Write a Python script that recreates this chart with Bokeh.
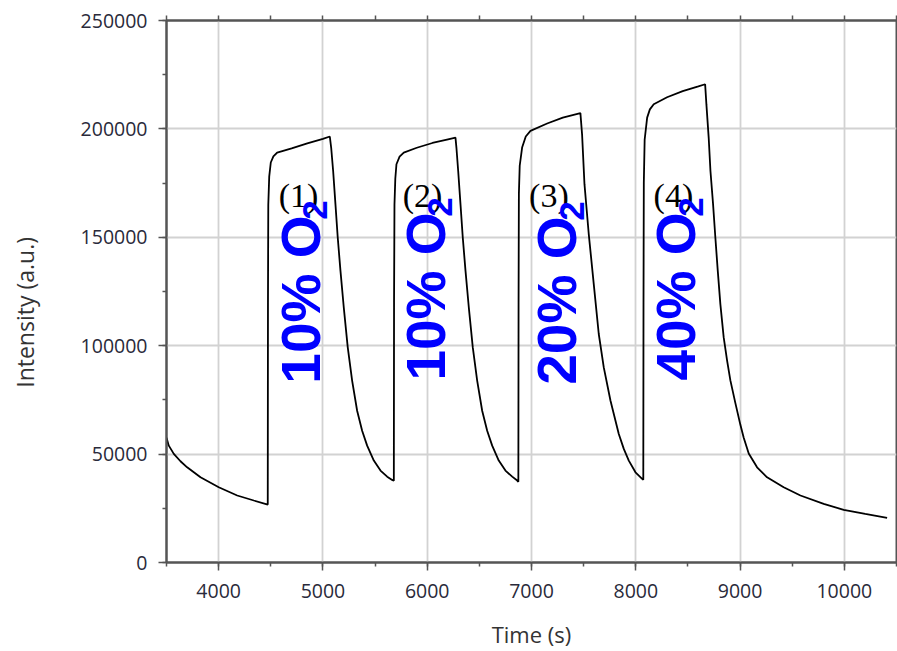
import math
from bokeh.plotting import figure
from bokeh.models import Range1d, LinearAxis, SingleIntervalTicker, FixedTicker, NumeralTickFormatter
from bokeh.core.properties import value
from bokeh.embed import file_html
from bokeh.resources import INLINE

# ---- data ----
time_s = [
    3500, 3522, 3570, 3634, 3698, 3826, 4001, 4178, 4337, 4471,
    4473, 4476, 4485, 4500, 4525, 4561, 4700, 4850, 5000, 5066,
    5079, 5098, 5120, 5142, 5168, 5200, 5238, 5280, 5328, 5376, 5424, 5488, 5552, 5616, 5664, 5680,
    5682, 5686, 5694, 5705, 5735, 5775, 5900, 6050, 6200, 6271,
    6280, 6297, 6319, 6341, 6367, 6399, 6437, 6479, 6527, 6575, 6623, 6686, 6750, 6815, 6863, 6874,
    6876, 6879, 6887, 6910, 6945, 6990, 7150, 7300, 7469,
    7485, 7508, 7549, 7597, 7645, 7693, 7757, 7837, 7885, 7933, 7997, 8061, 8072,
    8074, 8077, 8085, 8109, 8135, 8172, 8300, 8450, 8600, 8665,
    8677, 8699, 8716, 8741, 8763, 8786, 8811, 8843, 8876, 8907, 8955, 9003, 9035, 9083, 9163, 9259,
    9418, 9579, 9802, 9994, 10200, 10410,
]
intensity = [
    57600, 53900, 50100, 46700, 43900, 39300, 34700, 30900, 28600, 26700,
    120000, 165000, 178000, 184500, 187300, 189100, 191000, 193300, 195400, 196500,
    191400, 180600, 165300, 149900, 134600, 117600, 99200, 83900, 70000, 60800, 53900, 47000, 42400, 39600, 38100, 37700,
    120000, 165000, 177000, 183700, 187200, 189100, 191300, 193500, 195200, 196000,
    191400, 180600, 165300, 149900, 134600, 117600, 99200, 83900, 70000, 60800, 53900, 47000, 42400, 39600, 37800, 37200,
    120000, 170000, 183000, 191400, 196500, 199100, 202500, 205200, 207300,
    197500, 174500, 151500, 128400, 105400, 90000, 74700, 59300, 52400, 47000, 41600, 38600, 38200,
    120000, 175000, 195000, 205200, 209000, 211400, 214600, 217400, 219600, 220600,
    211400, 196000, 180600, 165300, 149900, 134600, 119200, 103800, 93000, 84000, 73500, 63500, 57500, 50300, 43900, 39300,
    34700, 30900, 27000, 24300, 22400, 20600,
]

step_labels = ["(1)", "(2)", "(3)", "(4)"]
step_x = [4766, 5955, 7167, 8361]
step_y = [169100, 169100, 169100, 169100]

gas_labels = ["10% O", "10% O", "20% O", "40% O"]
gas_sub = ["2", "2", "2", "2"]
gas_x = [4792, 5984, 7249, 8390]
gas_y = [82500, 83900, 82000, 83900]
sub_dx = 135      # seconds
sub_dy = 75600    # intensity units

x_ticks_interval = 1000
y_ticks_interval = 50000
top_minor_ticks = list(range(3500, 10501, 500))

# ---- figure ----
p = figure(width=897, height=651, output_backend="svg", toolbar_location=None,
           x_range=Range1d(3500, 10500), y_range=Range1d(0, 250000),
           min_border_left=166, min_border_right=1, min_border_top=20, min_border_bottom=89)
p.background_fill_color = "white"
p.border_fill_color = "white"
p.outline_line_color = "#555555"
p.outline_line_width = 2

axis_col = "#555555"

xticker = SingleIntervalTicker(interval=x_ticks_interval, num_minor_ticks=2)
yticker = SingleIntervalTicker(interval=y_ticks_interval, num_minor_ticks=2)
xax = p.xaxis[0]
yax = p.yaxis[0]
xax.ticker = xticker
yax.ticker = yticker
yax.formatter = NumeralTickFormatter(format="0")
for ax in (xax, yax):
    ax.axis_line_color = axis_col
    ax.axis_line_width = 2
    ax.major_tick_line_color = axis_col
    ax.minor_tick_line_color = axis_col
    ax.major_tick_line_width = 1.5
    ax.minor_tick_line_width = 1.5
    ax.major_tick_out = 8
    ax.major_tick_in = 0
    ax.minor_tick_out = 4
    ax.minor_tick_in = 0
    ax.major_label_text_font = "Open Sans"
    ax.major_label_text_font_size = "19.5px"
    ax.major_label_text_color = "#2a2a3a"
    ax.axis_label_text_font = "Open Sans"
    ax.axis_label_text_font_style = "normal"
    ax.axis_label_text_color = "#333333"
xax.major_label_standoff = 13
yax.major_label_standoff = 11
xax.axis_label = "Time (s)"
xax.axis_label_text_font_size = "22px"
xax.axis_label_standoff = 18
yax.axis_label = "Intensity (a.u.)" + "\u00a0" * 7
yax.axis_label_text_font_size = "23px"
yax.axis_label_standoff = 37

p.xgrid.ticker = xticker
p.ygrid.ticker = yticker
p.xgrid.grid_line_color = "#d2d2d2"
p.ygrid.grid_line_color = "#d2d2d2"
p.xgrid.grid_line_width = 1.8
p.ygrid.grid_line_width = 1.8

top = LinearAxis(ticker=FixedTicker(ticks=[], minor_ticks=top_minor_ticks))
top.axis_line_color = axis_col
top.axis_line_width = 2
top.major_tick_line_color = axis_col
top.minor_tick_line_color = axis_col
top.minor_tick_line_width = 1.5
top.minor_tick_out = 5
top.minor_tick_in = 0
p.add_layout(top, "above")

p.line(time_s, intensity, line_color="black", line_width=1.8)

p.text(x=step_x, y=step_y, text=step_labels, text_font=value("Liberation Serif"),
       text_font_size="34px", text_color="black", text_align="center", text_baseline="middle")

p.text(x=gas_x, y=gas_y, text=gas_labels, angle=math.pi / 2, text_font=value("Liberation Sans"),
       text_font_style="bold", text_font_size="55px", text_color="#0000ff",
       text_align="left", text_baseline="alphabetic")
p.text(x=[v + sub_dx for v in gas_x], y=[v + sub_dy for v in gas_y], text=gas_sub, angle=math.pi / 2,
       text_font=value("Liberation Sans"), text_font_style="bold", text_font_size="35px",
       text_color="#0000ff", text_align="left", text_baseline="alphabetic")

open("out.html", "w").write(file_html(p, INLINE))
